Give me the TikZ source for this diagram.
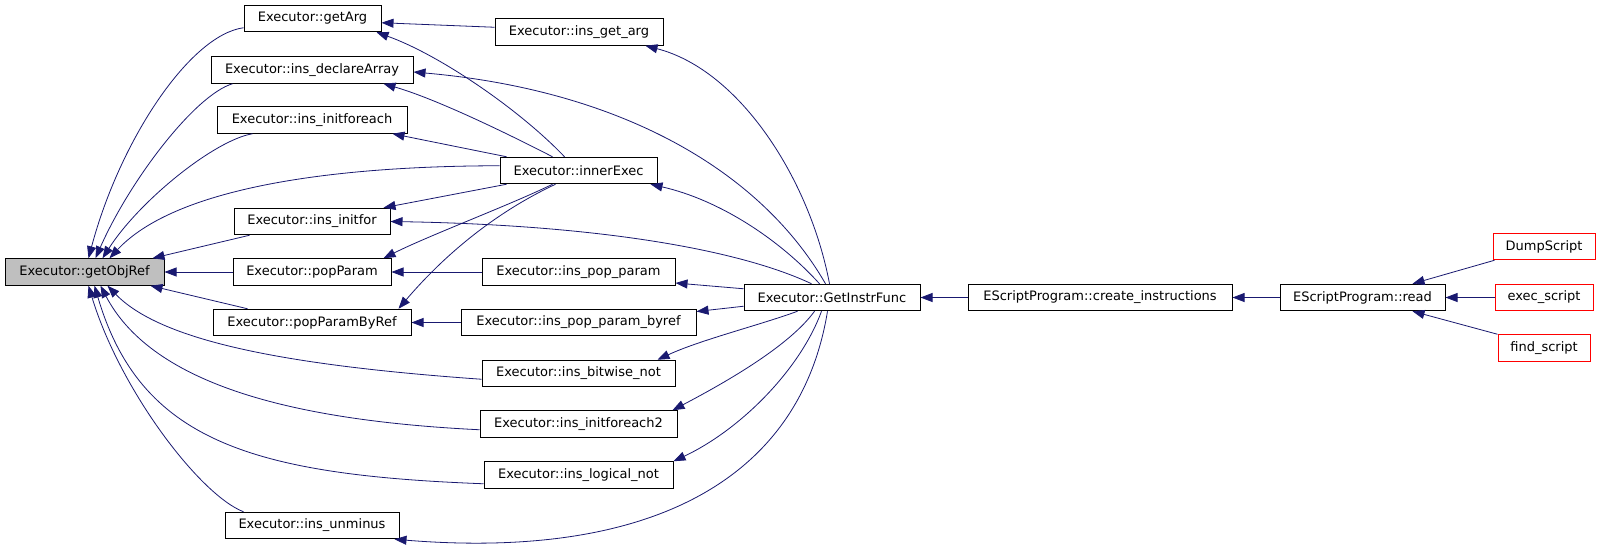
\documentclass[tikz,border=0pt]{standalone}
\usepackage{fontspec}
\setmainfont{DejaVu Sans}
\usetikzlibrary{arrows.meta,calc}
\definecolor{edgeblue}{RGB}{25,25,112}
\definecolor{nodegrey}{RGB}{191,191,191}
\begin{document}
\begin{tikzpicture}[x=1pt,y=-1pt,
  box/.style={draw=black, line width=1pt, minimum height=26.5pt, inner sep=0pt, font=\fontsize{13}{15}\selectfont, anchor=center, fill=white},
  redbox/.style={box, draw=red},
  edge/.style={draw=edgeblue, line width=0.8pt, -{Triangle[length=12pt,width=9pt]}}]
\useasboundingbox[fill=white] (0,0) rectangle (1600,552);

\node[box, minimum width=159pt, fill=nodegrey] (getObjRef) at (84.5,272) {Executor::getObjRef};
\node[box, minimum width=137pt] (getArg) at (312.5,18.5) {Executor::getArg};
\node[box, minimum width=202pt] (declareArray) at (312,70) {Executor::ins\_declareArray};
\node[box, minimum width=190pt] (initforeach) at (312,120) {Executor::ins\_initforeach};
\node[box, minimum width=156pt] (initfor) at (312,221.5) {Executor::ins\_initfor};
\node[box, minimum width=158pt] (popParam) at (312,272) {Executor::popParam};
\node[box, minimum width=198pt] (popParamByRef) at (312,322.5) {Executor::popParamByRef};
\node[box, minimum width=174pt] (unminus) at (312,525.5) {Executor::ins\_unminus};
\node[box, minimum width=168pt] (insgetarg) at (579,32) {Executor::ins\_get\_arg};
\node[box, minimum width=157pt] (innerExec) at (578.5,170.5) {Executor::innerExec};
\node[box, minimum width=193pt] (inspopparam) at (578.5,272) {Executor::ins\_pop\_param};
\node[box, minimum width=235pt] (inspopparambyref) at (578.5,322.5) {Executor::ins\_pop\_param\_byref};
\node[box, minimum width=193pt] (bitwisenot) at (578.5,373.5) {Executor::ins\_bitwise\_not};
\node[box, minimum width=197pt] (initforeachtwo) at (578.5,424) {Executor::ins\_initforeach2};
\node[box, minimum width=189pt] (logicalnot) at (578.5,475) {Executor::ins\_logical\_not};
\node[box, minimum width=176pt] (getInstrFunc) at (832,297.5) {Executor::GetInstrFunc};
\node[box, minimum width=264pt] (createinstr) at (1100,297.5) {EScriptProgram::create\_instructions};
\node[box, minimum width=165pt] (read) at (1362.5,297.5) {EScriptProgram::read};
\node[redbox, minimum width=102pt] (dumpscript) at (1544,246.5) {DumpScript};
\node[redbox, minimum width=98pt] (execscript) at (1544,297.5) {exec\_script};
\node[redbox, minimum width=92pt] (findscript) at (1544,348) {find\_script};

% into getObjRef, top side
\draw[edge] ($(getArg.north west)+(0,23)$) .. controls (190,35) and (120,140) .. ($(getObjRef.north west)+(84,0)$);
\draw[edge] ($(declareArray.south west)+(22,0)$) .. controls (195,95) and (130,180) .. ($(getObjRef.north west)+(91,0)$);
\draw[edge] ($(initforeach.south west)+(36,0)$) .. controls (215,140) and (140,200) .. ($(getObjRef.north west)+(98,0)$);
\draw[edge] ($(innerExec.north west)+(0,9)$) .. controls (330,166) and (175,188) .. ($(getObjRef.north west)+(105,0)$);
\draw[edge] ($(initfor.south west)+(16,0)$) -- ($(getObjRef.north east)+(-12,0)$);
\draw[edge] (popParam.west) -- (getObjRef.east);
\draw[edge] ($(popParamByRef.north west)+(35,0)$) -- ($(getObjRef.south east)+(-14,0)$);
% into getObjRef, bottom side
\draw[edge] ($(bitwisenot.south west)+(0,-8)$) .. controls (280,365) and (160,340) .. ($(getObjRef.south west)+(103,0)$);
\draw[edge] ($(initforeachtwo.south west)+(0,-8)$) .. controls (280,420) and (150,380) .. ($(getObjRef.south west)+(96,0)$);
\draw[edge] ($(logicalnot.south west)+(0,-5)$) .. controls (250,475) and (140,440) .. ($(getObjRef.south west)+(90,0)$);
\draw[edge] ($(unminus.north west)+(19,0)$) .. controls (200,495) and (120,390) .. ($(getObjRef.south west)+(84,0)$);

% second column into first column
\draw[edge] ($(insgetarg.north west)+(0,9)$) -- ($(getArg.north east)+(0,18)$);
\draw[edge] ($(innerExec.north west)+(65,0)$) .. controls (520,110) and (440,55) .. ($(getArg.south east)+(-5,0)$);
\draw[edge] ($(innerExec.north west)+(53,0)$) .. controls (520,140) and (440,100) .. ($(declareArray.south east)+(-30,0)$);
\draw[edge] ($(innerExec.north west)+(7,0)$) -- ($(initforeach.south east)+(-15,0)$);
\draw[edge] ($(innerExec.south west)+(7,0)$) -- ($(initfor.north east)+(-7,0)$);
\draw[edge] ($(innerExec.south west)+(53,0)$) .. controls (510,205) and (430,235) .. ($(popParam.north east)+(-8,0)$);
\draw[edge] ($(innerExec.south west)+(56,0)$) .. controls (490,215) and (440,260) .. ($(popParamByRef.north east)+(-13,0)$);
\draw[edge] (inspopparam.west) -- (popParam.east);
\draw[edge] (inspopparambyref.west) -- (popParamByRef.east);

% from GetInstrFunc
\draw[edge] ($(getInstrFunc.north west)+(82,0)$) .. controls (760,170) and (620,90) .. ($(declareArray.east)+(0,2)$);
\draw[edge] ($(getInstrFunc.north west)+(68,0)$) .. controls (740,250) and (600,225) .. (initfor.east);
\draw[edge] ($(getInstrFunc.north west)+(86,0)$) .. controls (810,180) and (740,70) .. ($(insgetarg.south east)+(-18,0)$);
\draw[edge] ($(getInstrFunc.north west)+(76,0)$) .. controls (780,240) and (720,200) .. ($(innerExec.south east)+(-7,0)$);
\draw[edge] ($(getInstrFunc.north west)+(0,5)$) -- ($(inspopparam.east)+(0,11)$);
\draw[edge] ($(getInstrFunc.south west)+(0,-5)$) -- ($(inspopparambyref.east)+(0,-11)$);
\draw[edge] ($(getInstrFunc.south west)+(54,0)$) .. controls (760,325) and (700,340) .. ($(bitwisenot.north east)+(-18,0)$);
\draw[edge] ($(getInstrFunc.south west)+(71,0)$) .. controls (790,345) and (730,380) .. ($(initforeachtwo.north east)+(-5,0)$);
\draw[edge] ($(getInstrFunc.south west)+(78,0)$) .. controls (800,370) and (740,430) .. (logicalnot.north east);
\draw[edge] ($(getInstrFunc.south west)+(84,0)$) .. controls (800,480) and (650,560) .. ($(unminus.south east)+(-5,0)$);

% right chain
\draw[edge] (createinstr.west) -- (getInstrFunc.east);
\draw[edge] (read.west) -- (createinstr.east);
\draw[edge] ($(dumpscript.south west)+(2,0)$) -- ($(read.north west)+(133,0)$);
\draw[edge] (execscript.west) -- (read.east);
\draw[edge] (findscript.north west) -- ($(read.south west)+(133,0)$);
\end{tikzpicture}
\end{document}
